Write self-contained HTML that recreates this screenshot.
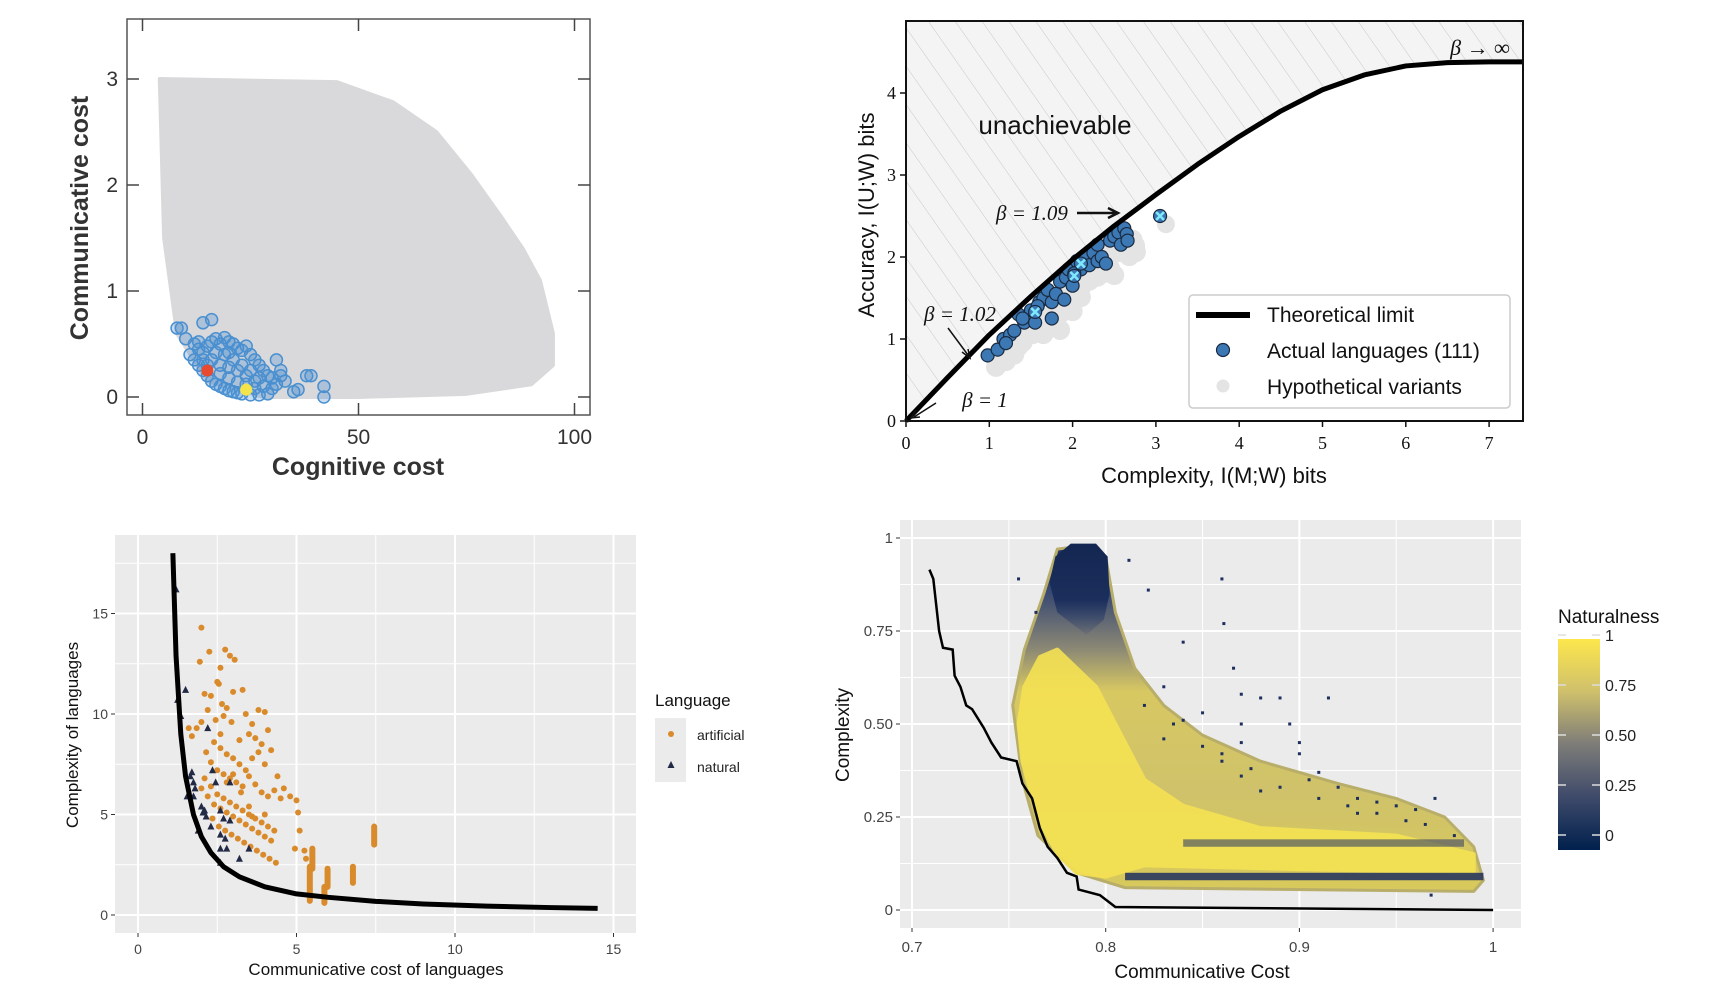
<!DOCTYPE html>
<html><head><meta charset="utf-8"><style>
html,body{margin:0;padding:0;background:#fff;}
svg{display:block;font-family:"Liberation Sans",sans-serif;}
</style></head><body>
<svg id="s" width="1715" height="994" viewBox="0 0 1715 994" xmlns="http://www.w3.org/2000/svg">
<defs>
<pattern id="hatch" width="22" height="22" patternUnits="userSpaceOnUse" patternTransform="rotate(-35)">
<rect width="22" height="22" fill="#f4f4f4"/>
<line x1="0" y1="0" x2="0" y2="22" stroke="#c8c8c8" stroke-width="1"/>
</pattern>
<linearGradient id="cbar" x1="0" y1="0" x2="0" y2="1">
<stop offset="0" stop-color="#fde74c"/><stop offset="0.25" stop-color="#cfc06c"/><stop offset="0.5" stop-color="#7d7c78"/><stop offset="0.75" stop-color="#3e4a6a"/><stop offset="1" stop-color="#00204d"/>
</linearGradient>
<linearGradient id="cloud4" gradientUnits="userSpaceOnUse" x1="0" y1="540" x2="0" y2="900">
<stop offset="0" stop-color="#1b2d5c"/><stop offset="0.15" stop-color="#3a4a72"/><stop offset="0.3" stop-color="#8a8775"/><stop offset="0.42" stop-color="#d8c862"/><stop offset="0.7" stop-color="#cfc26a"/><stop offset="1" stop-color="#d9ca5a"/>
</linearGradient>
<linearGradient id="top4" gradientUnits="userSpaceOnUse" x1="0" y1="540" x2="0" y2="640">
<stop offset="0" stop-color="#132652"/><stop offset="0.6" stop-color="#1c2f5c"/><stop offset="1" stop-color="#3a4a72" stop-opacity="0"/>
</linearGradient>
</defs>
</svg>
<script>
// ===== Chart 1 data =====
const c1CloudX=[4,45,58,68,76,83,88,92,95,95,90,75,50,28,15,8,5];
const c1CloudY=[3,2.97,2.78,2.5,2.1,1.7,1.4,1.1,0.6,0.3,0.12,0.03,0,0,0.15,0.6,1.5];
const c1LangX=[10,12,13,14,15,16,17,18,19,20,21,22,23,24,25,26,27,28,29,30,31,32,33,11,12,13,14,15,16,17,18,19,20,21,22,23,25,27,29,16,18,20,22,24,26,28,30,19,21,23,25,27,17,20,22,24,26,14,8,9,14,16,35,36,38,39,42,42,31,32,18,20,15,13];
const c1LangY=[0.55,0.5,0.45,0.42,0.48,0.52,0.55,0.5,0.56,0.52,0.5,0.46,0.44,0.48,0.4,0.35,0.3,0.25,0.2,0.18,0.12,0.2,0.15,0.4,0.35,0.3,0.25,0.2,0.15,0.12,0.1,0.08,0.06,0.05,0.04,0.03,0.02,0.02,0.03,0.35,0.3,0.28,0.25,0.2,0.15,0.1,0.08,0.4,0.35,0.3,0.25,0.18,0.42,0.18,0.14,0.12,0.08,0.35,0.65,0.65,0.7,0.73,0.05,0.07,0.2,0.2,0.1,0,0.35,0.25,0.22,0.42,0.3,0.52];
const c1XTicks=[0,50,100];
const c1YTicks=[0,1,2,3];
// ===== Chart 2 data =====
const c2CurveX=[0,0.5,1,1.5,2,2.5,3,3.5,4,4.5,5,5.5,6,6.5,7,7.4];
const c2CurveY=[0,0.53,1.05,1.52,1.97,2.38,2.76,3.13,3.47,3.78,4.04,4.22,4.33,4.37,4.38,4.38];
const c2LangX=[0.98,1.1,1.17,1.25,1.3,1.35,1.42,1.5,1.55,1.6,1.65,1.7,1.75,1.75,1.8,1.85,1.9,1.92,1.95,2.0,2.05,2.1,2.15,2.2,2.25,2.3,2.3,2.35,2.4,2.45,2.5,2.55,2.58,2.62,2.65,2.66,1.4,1.2,2.02,1.58];
const c2LangY=[0.8,0.87,1.0,1.05,1.1,1.3,1.2,1.35,1.2,1.45,1.5,1.6,1.25,1.45,1.55,1.7,1.48,1.75,1.85,1.65,1.95,1.85,2.0,1.9,2.05,1.95,2.15,2.0,1.92,2.2,2.25,2.3,2.15,2.35,2.28,2.2,1.25,0.95,1.8,1.4];
const c2MarkX=[1.55,2.02,2.1,3.05];
const c2MarkY=[1.33,1.77,1.92,2.5];
const c2XTicks=[0,1,2,3,4,5,6,7];
const c2YTicks=[0,1,2,3,4];
// ===== Chart 3 data =====
const c3CurveX=[1.1,1.2,1.35,1.5,1.75,2,2.3,2.7,3.2,4,5,6,7.5,9,11,13,14.5];
const c3CurveY=[18,12.9,9.0,6.9,5.0,3.9,3.1,2.4,1.9,1.4,1.05,0.88,0.68,0.55,0.44,0.37,0.33];
const c3ArtX=[2.0,2.25,1.95,2.1,2.6,2.75,2.9,3.05,2.55,2.3,2.5,2.65,2.8,3.0,3.3,3.4,3.6,3.8,4.0,4.1,3.9,3.7,3.5,3.2,2.95,2.7,2.45,2.2,2.0,1.85,1.6,1.7,2.4,2.6,2.8,3.0,3.2,3.4,3.6,3.8,4.0,4.2,4.4,4.6,4.8,5.0,5.05,2.3,2.5,2.7,2.9,3.1,3.3,3.5,3.7,3.9,4.1,4.3,4.5,2.1,2.3,2.5,2.7,2.9,3.1,3.3,3.5,3.7,3.9,4.1,4.3,2.0,2.2,2.4,2.6,2.8,3.0,3.2,3.4,3.6,3.8,4.0,4.2,2.35,2.55,2.75,2.95,3.15,3.35,3.55,3.75,3.95,4.15,4.35,3.6,3.5,3.25,2.8,3.0,5.3,5.25,4.95,5.1,4.0,2.15,2.6];
const c3ArtY=[14.3,13.1,12.6,11.0,12.3,13.2,12.9,12.7,11.5,10.9,11.6,10.5,10.3,11.1,11.2,10.0,9.5,10.2,10.1,9.2,8.5,8.8,9.0,8.7,9.6,9.9,9.7,10.2,9.6,9.3,9.3,8.9,8.6,8.3,8.0,7.8,7.5,7.2,7.8,8.1,7.5,8.2,6.9,6.3,5.9,5.7,5.1,7.6,7.2,7.0,6.8,6.6,6.4,6.9,6.5,6.1,5.9,6.2,5.8,6.8,6.4,6.0,5.8,5.6,5.4,5.2,5.0,4.8,4.6,4.4,4.2,6.3,5.9,5.5,5.3,5.1,4.9,4.7,4.5,4.3,4.1,3.9,3.7,4.8,4.4,4.2,4.0,3.8,3.6,3.4,3.2,3.0,2.8,2.6,4.9,5.4,6.1,6.6,7.0,2.8,3.2,3.3,4.2,5.0,8.1,9.0];
const c3ColX=[5.42,5.5,5.88,5.98,6.78,7.45];
const c3ColY0=[0.7,2.3,0.6,1.4,1.6,3.5];
const c3ColY1=[2.4,3.3,1.4,2.3,2.4,4.4];
const c3NatX=[1.2,1.25,1.5,1.35,2.2,1.7,1.75,1.8,1.55,1.75,2.0,2.1,2.15,1.9,2.3,2.35,2.45,2.6,2.7,2.6,2.75,2.6,2.8,2.6,3.2,3.5,2.9,2.9,1.65,2.05];
const c3NatY=[16.2,10.7,11.2,9.9,9.3,7.1,6.6,6.3,5.9,5.9,5.4,5.2,4.9,4.2,4.4,7.2,6.6,5.2,4.8,4.0,3.8,3.3,3.3,2.6,2.8,3.3,6.6,4.7,6.9,5.1];
const c3XTicks=[0,5,10,15];
const c3YTicks=[0,5,10,15];
// ===== Chart 4 data =====
const c4LineX=[0.709,0.711,0.714,0.716,0.721,0.722,0.725,0.728,0.731,0.737,0.741,0.746,0.754,0.757,0.762,0.766,0.770,0.775,0.780,0.785,0.786,0.797,0.805,1.0];
const c4LineY=[0.915,0.89,0.75,0.705,0.70,0.63,0.6,0.55,0.54,0.49,0.45,0.41,0.40,0.34,0.30,0.22,0.17,0.14,0.10,0.09,0.055,0.04,0.008,0.0];
const c4OuterX=[0.752,0.758,0.768,0.775,0.79,0.80,0.805,0.815,0.83,0.85,0.88,0.92,0.95,0.975,0.99,0.995,0.99,0.81,0.785,0.765,0.757];
const c4OuterY=[0.55,0.7,0.85,0.97,0.98,0.95,0.8,0.65,0.55,0.47,0.4,0.34,0.3,0.25,0.17,0.08,0.05,0.06,0.1,0.2,0.35];
const c4CoreX=[0.758,0.766,0.775,0.785,0.795,0.805,0.82,0.84,0.88,0.95,0.99,0.99,0.9,0.82,0.80,0.785,0.775,0.765,0.757,0.755];
const c4CoreY=[0.6,0.68,0.7,0.65,0.6,0.5,0.35,0.28,0.22,0.2,0.15,0.1,0.11,0.12,0.09,0.1,0.15,0.25,0.4,0.5];
const c4TopX=[0.775,0.771,0.774,0.782,0.795,0.801,0.802,0.799,0.79];
const c4TopY=[0.80,0.88,0.95,0.985,0.985,0.95,0.85,0.78,0.74];
const c4DotX=[0.812,0.822,0.86,0.861,0.84,0.866,0.87,0.88,0.89,0.895,0.9,0.915,0.87,0.85,0.83,0.83,0.86,0.87,0.875,0.91,0.92,0.93,0.94,0.95,0.96,0.97,0.968,0.9,0.905,0.93,0.88,0.84,0.755,0.764,0.82,0.835,0.85,0.86,0.87,0.89,0.91,0.925,0.94,0.955,0.965,0.98];
const c4DotY=[0.94,0.86,0.89,0.77,0.72,0.65,0.58,0.57,0.57,0.5,0.45,0.57,0.5,0.53,0.46,0.6,0.42,0.45,0.38,0.37,0.33,0.3,0.29,0.28,0.27,0.3,0.04,0.42,0.35,0.26,0.32,0.51,0.89,0.8,0.55,0.5,0.44,0.4,0.36,0.33,0.3,0.28,0.26,0.24,0.23,0.2];
const c4XTicks=[0.7,0.8,0.9,1];
const c4XLabels=['0.7','0.8','0.9','1'];
const c4YTicks=[0,0.25,0.5,0.75,1];
const c4YLabels=['0','0.25','0.50','0.75','1'];
const cbTicks=[0,0.25,0.5,0.75,1];
const cbLabels=['0','0.25','0.50','0.75','1'];

const NS='http://www.w3.org/2000/svg';
const svg=document.getElementById('s');
function E(tag,attrs,parent,txt){const e=document.createElementNS(NS,tag);for(const k in attrs)e.setAttribute(k,attrs[k]);if(txt!==undefined)e.textContent=txt;(parent||svg).appendChild(e);return e;}
function grp(name){const g=E('g',{});return g;}
function pts(xs,ys,sx,sy){return xs.map((x,i)=>sx(x)+','+sy(ys[i])).join(' ');}

// ================= Chart 1 =================
(function(){
const g=grp('chart-cognitive-cost');
const sx=v=>142.5+v*4.32, sy=v=>397-v*106;
const cloud=E('polygon',{points:pts(c1CloudX,c1CloudY,sx,sy),fill:'#d9d9db','stroke':'#d9d9db','stroke-width':4,'stroke-linejoin':'round'},g);


c1LangX.forEach((x,i)=>{const c=E('circle',{cx:sx(x),cy:sy(c1LangY[i]),r:6,fill:'rgba(74,144,208,0.3)',stroke:'#4a90d0','stroke-width':1.5},g);

});
const r=E('circle',{cx:sx(15),cy:sy(0.25),r:6,fill:'#e84a2f'},g);


const y=E('circle',{cx:sx(24),cy:sy(0.07),r:6,fill:'#f3e44a'},g);


const fr=E('rect',{x:127,y:19,width:463,height:396,fill:'none',stroke:'#555','stroke-width':1.5},g);


c1XTicks.forEach(v=>{E('line',{x1:sx(v),x2:sx(v),y1:415,y2:403,stroke:'#444','stroke-width':1.5},g);E('line',{x1:sx(v),x2:sx(v),y1:19,y2:31,stroke:'#444','stroke-width':1.5},g);
const t=E('text',{x:sx(v),y:444,'text-anchor':'middle','font-size':21,fill:'#333'},g,String(v));

});
c1YTicks.forEach(v=>{E('line',{x1:127,x2:139,y1:sy(v),y2:sy(v),stroke:'#444','stroke-width':1.5},g);E('line',{x1:590,x2:578,y1:sy(v),y2:sy(v),stroke:'#444','stroke-width':1.5},g);
const t=E('text',{x:118,y:sy(v)+7,'text-anchor':'end','font-size':21,fill:'#333'},g,String(v));

});
const xt=E('text',{x:358,y:475,'text-anchor':'middle','font-size':25,'font-weight':'bold',fill:'#333'},g,'Cognitive cost');


const yt=E('text',{x:0,y:0,transform:'translate(88,218) rotate(-90)','text-anchor':'middle','font-size':25,'font-weight':'bold',fill:'#333'},g,'Communicative cost');


})();

// ================= Chart 2 =================
(function(){
const g=grp('chart-information-bottleneck');
const sx=v=>906+v*83.3, sy=v=>421-v*82;
const hp=pts(c2CurveX,c2CurveY,sx,sy)+' '+sx(7.4)+','+21+' '+sx(0)+','+21;
const h=E('polygon',{points:hp,fill:'url(#hatch)'},g);


c2LangX.forEach((x,i)=>{const c=E('circle',{cx:sx(x+0.1),cy:sy(c2LangY[i]-0.14),r:10,fill:'#e4e4e4'},g);

});
E('circle',{cx:sx(3.12),cy:sy(2.4),r:9,fill:'#e4e4e4'},g);
c2LangX.forEach((x,i)=>{const c=E('circle',{cx:sx(x),cy:sy(c2LangY[i]),r:6.5,fill:'#3c78b4',stroke:'#1a2a40','stroke-width':1.2},g);

});
c2MarkX.forEach((x,i)=>{const X=sx(x),Y=sy(c2MarkY[i]);const c=E('circle',{cx:X,cy:Y,r:6.5,fill:'#3c78b4',stroke:'#1a2a40','stroke-width':1.2},g);


E('path',{d:`M${X-4} ${Y-4}L${X+4} ${Y+4}M${X+4} ${Y-4}L${X-4} ${Y+4}`,stroke:'#7fe8ff','stroke-width':2.5},g);});
const cv=E('polyline',{points:pts(c2CurveX,c2CurveY,sx,sy),fill:'none',stroke:'#000','stroke-width':5,'stroke-linejoin':'round'},g);


const fr=E('rect',{x:906,y:21,width:617,height:400,fill:'none',stroke:'#111','stroke-width':2},g);


c2XTicks.forEach(v=>{E('line',{x1:sx(v),x2:sx(v),y1:421,y2:427,stroke:'#111','stroke-width':1.5},g);
const t=E('text',{x:sx(v),y:449,'text-anchor':'middle','font-size':18,'font-family':'Liberation Serif,serif',fill:'#111'},g,String(v));

});
c2YTicks.forEach(v=>{E('line',{x1:900,x2:906,y1:sy(v),y2:sy(v),stroke:'#111','stroke-width':1.5},g);
const t=E('text',{x:896,y:sy(v)+6,'text-anchor':'end','font-size':18,'font-family':'Liberation Serif,serif',fill:'#111'},g,String(v));

});
const ann=[['unachievable',1055,134,26,'Liberation Sans'],['β → ∞',1480,55,22,'Liberation Serif'],['β = 1.09',1032,220,21,'Liberation Serif'],['β = 1.02',960,321,21,'Liberation Serif'],['β = 1',985,407,21,'Liberation Serif']];
ann.forEach(a=>{const t=E('text',{x:a[1],y:a[2],'text-anchor':'middle','font-size':a[3],'font-family':a[4]+',serif','font-style':a[4]=='Liberation Serif'?'italic':'normal',fill:'#111'},g,a[0]);

});
E('path',{d:'M1077 213 L1115 213 M1108 208 L1118 213 L1108 218',stroke:'#111','stroke-width':2.5,fill:'none'},g);
E('path',{d:'M948 328 L968 355 M962 352 L970 358 L968 349',stroke:'#111','stroke-width':1.5,fill:'none'},g);
E('path',{d:'M936 403 L914 417 M916 410 L911 418 L920 417',stroke:'#111','stroke-width':1.5,fill:'none'},g);
const lg=E('g',{},g);


E('rect',{x:1189,y:295,width:321,height:113,rx:4,fill:'#fff',stroke:'#ccc','stroke-width':1.5},lg);
E('line',{x1:1196,x2:1250,y1:315,y2:315,stroke:'#000','stroke-width':6},lg);
E('circle',{cx:1223,cy:350,r:6.5,fill:'#3c78b4',stroke:'#1a2a40','stroke-width':1.2},lg);
E('circle',{cx:1223,cy:386,r:6.5,fill:'#e4e4e4'},lg);
[['Theoretical limit',322],['Actual languages (111)',358],['Hypothetical variants',394]].forEach(l=>{const t=E('text',{x:1267,y:l[1],'font-size':21,fill:'#111'},lg,l[0]);

});
const xt=E('text',{x:1214,y:483,'text-anchor':'middle','font-size':22,fill:'#111'},g,'Complexity, I(M;W) bits');


const yt=E('text',{x:0,y:0,transform:'translate(874,215) rotate(-90)','text-anchor':'middle','font-size':22,fill:'#111'},g,'Accuracy, I(U;W) bits');


})();

// ================= Chart 3 =================
(function(){
const g=grp('chart-language-complexity');
const sx=v=>138+v*31.7, sy=v=>915-v*20.1;
const bg=E('rect',{x:115,y:535,width:521,height:398,fill:'#ebebeb'},g);


[2.5,7.5,12.5].forEach(v=>{E('line',{x1:sx(v),x2:sx(v),y1:535,y2:933,stroke:'#fff','stroke-width':1},g);E('line',{x1:115,x2:636,y1:sy(v),y2:sy(v),stroke:'#fff','stroke-width':1},g);});
E('line',{x1:115,x2:636,y1:sy(17.5),y2:sy(17.5),stroke:'#fff','stroke-width':1},g);
c3XTicks.forEach(v=>{E('line',{x1:sx(v),x2:sx(v),y1:535,y2:933,stroke:'#fff','stroke-width':2},g);E('line',{x1:sx(v),x2:sx(v),y1:933,y2:937,stroke:'#333'},g);
const t=E('text',{x:sx(v),y:954,'text-anchor':'middle','font-size':14,fill:'#444'},g,String(v));

});
c3YTicks.forEach(v=>{E('line',{x1:115,x2:636,y1:sy(v),y2:sy(v),stroke:'#fff','stroke-width':2},g);E('line',{x1:111,x2:115,y1:sy(v),y2:sy(v),stroke:'#333'},g);
const t=E('text',{x:108,y:sy(v)+5,'text-anchor':'end','font-size':14,fill:'#444'},g,String(v));

});
c3ArtX.forEach((x,i)=>{const c=E('circle',{cx:sx(x),cy:sy(c3ArtY[i]),r:3,fill:'#d98a2b'},g);

});
c3ColX.forEach((x,i)=>{const l=E('line',{x1:sx(x),x2:sx(x),y1:sy(c3ColY0[i]),y2:sy(c3ColY1[i]),stroke:'#d98a2b','stroke-width':6,'stroke-linecap':'round'},g);

});
c3NatX.forEach((x,i)=>{const X=sx(x),Y=sy(c3NatY[i]);const p=E('polygon',{points:`${X},${Y-4} ${X-3.5},${Y+3} ${X+3.5},${Y+3}`,fill:'#232a45'},g);

});
const cv=E('polyline',{points:pts(c3CurveX,c3CurveY,sx,sy),fill:'none',stroke:'#000','stroke-width':5,'stroke-linejoin':'round'},g);


const lg=E('g',{},g);


E('text',{x:655,y:706,'font-size':17,fill:'#111'},lg,'Language');
E('rect',{x:655,y:718,width:31,height:64,fill:'#ebebeb'},lg);
E('circle',{cx:671,cy:734,r:3,fill:'#d98a2b'},lg);
E('polygon',{points:'671,761 667.5,768 674.5,768',fill:'#232a45'},lg);
E('text',{x:697,y:740,'font-size':14,fill:'#222'},lg,'artificial');
E('text',{x:697,y:772,'font-size':14,fill:'#222'},lg,'natural');
const xt=E('text',{x:376,y:975,'text-anchor':'middle','font-size':17,fill:'#111'},g,'Communicative cost of languages');


const yt=E('text',{x:0,y:0,transform:'translate(78,735) rotate(-90)','text-anchor':'middle','font-size':17,fill:'#111'},g,'Complexity of languages');


})();

// ================= Chart 4 =================
(function(){
const g=grp('chart-naturalness');
const sx=v=>912+(v-0.7)*1937, sy=v=>910-v*372;
const bg=E('rect',{x:900,y:520,width:621,height:408,fill:'#ebebeb'},g);


[0.75,0.85,0.95].forEach(v=>E('line',{x1:sx(v),x2:sx(v),y1:520,y2:928,stroke:'#fff','stroke-width':1},g));
[0.125,0.375,0.625,0.875].forEach(v=>E('line',{x1:900,x2:1521,y1:sy(v),y2:sy(v),stroke:'#fff','stroke-width':1},g));
c4XTicks.forEach((v,i)=>{E('line',{x1:sx(v),x2:sx(v),y1:520,y2:928,stroke:'#fff','stroke-width':2},g);E('line',{x1:sx(v),x2:sx(v),y1:928,y2:932,stroke:'#333'},g);
const t=E('text',{x:sx(v),y:952,'text-anchor':'middle','font-size':15,fill:'#444'},g,c4XLabels[i]);

});
c4YTicks.forEach((v,i)=>{E('line',{x1:900,x2:1521,y1:sy(v),y2:sy(v),stroke:'#fff','stroke-width':2},g);E('line',{x1:896,x2:900,y1:sy(v),y2:sy(v),stroke:'#333'},g);
const t=E('text',{x:893,y:sy(v)+5,'text-anchor':'end','font-size':15,fill:'#444'},g,c4YLabels[i]);

});
const o=E('polygon',{points:pts(c4OuterX,c4OuterY,sx,sy),fill:'url(#cloud4)','stroke':'#b8ae6a','stroke-width':3,'stroke-linejoin':'round'},g);


const c=E('polygon',{points:pts(c4CoreX,c4CoreY,sx,sy),fill:'#f5e253',opacity:0.9,'stroke':'#f5e253','stroke-width':4,'stroke-linejoin':'round'},g);


const tp=E('polygon',{points:pts(c4TopX,c4TopY,sx,sy),fill:'url(#top4)','stroke-linejoin':'round'},g);


const b1=E('rect',{x:sx(0.81),y:sy(0.1),width:sx(0.995)-sx(0.81),height:sy(0.08)-sy(0.1),fill:'#1e2f5e',opacity:0.85},g);


const b2=E('rect',{x:sx(0.84),y:sy(0.19),width:sx(0.985)-sx(0.84),height:sy(0.17)-sy(0.19),fill:'#3b4566',opacity:0.6},g);


c4DotX.forEach((x,i)=>{const d=E('rect',{x:sx(x)-1.5,y:sy(c4DotY[i])-1.5,width:3,height:3,fill:'#1e2f5e'},g);

});
const ln=E('polyline',{points:pts(c4LineX,c4LineY,sx,sy),fill:'none',stroke:'#000','stroke-width':2.5},g);


const cb=E('g',{},g);


E('text',{x:1558,y:623,'font-size':19,fill:'#111'},cb,'Naturalness');
const cbs=v=>835-v*200;
E('rect',{x:1558,y:639,width:42,height:211,fill:'url(#cbar)'},cb);
cbTicks.forEach((v,i)=>{E('line',{x1:1558,x2:1566,y1:cbs(v),y2:cbs(v),stroke:'#ddd','stroke-width':1.5},cb);E('line',{x1:1592,x2:1600,y1:cbs(v),y2:cbs(v),stroke:'#ddd','stroke-width':1.5},cb);
const t=E('text',{x:1605,y:cbs(v)+6,'font-size':16,fill:'#222'},cb,cbLabels[i]);

});
const xt=E('text',{x:1202,y:978,'text-anchor':'middle','font-size':19,fill:'#111'},g,'Communicative Cost');


const yt=E('text',{x:0,y:0,transform:'translate(849,735) rotate(-90)','text-anchor':'middle','font-size':19,fill:'#111'},g,'Complexity');


})();
</script>
</body></html>
